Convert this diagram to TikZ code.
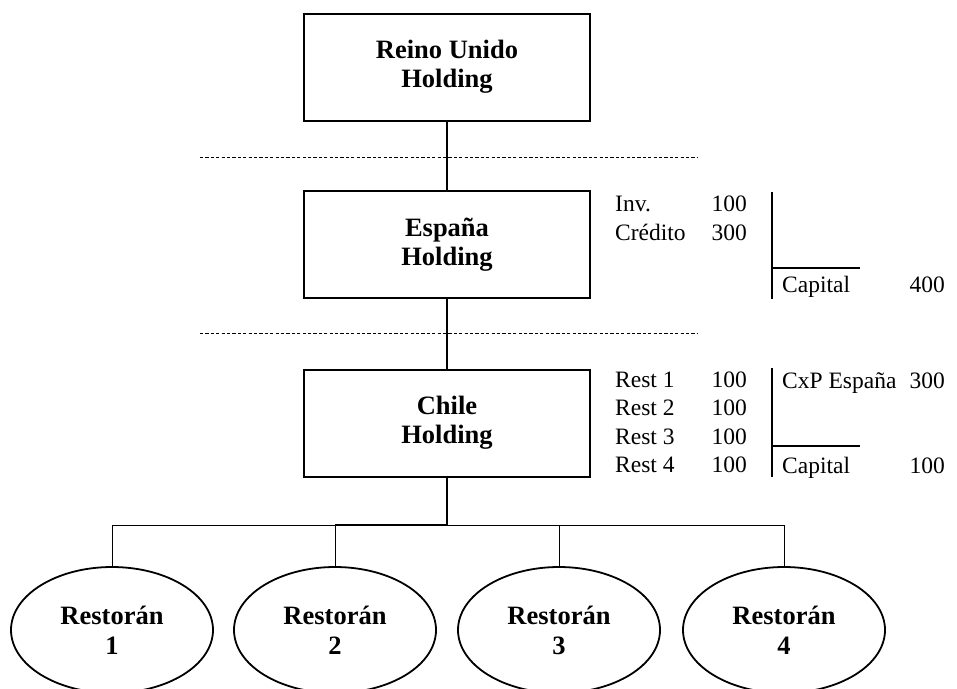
\documentclass[tikz,border=0pt]{standalone}
\usepackage{fontspec}
\setmainfont{Liberation Serif}
\usetikzlibrary{shapes.geometric}
\begin{document}
\begin{tikzpicture}[x=1pt,y=-1pt,
  holdbox/.style={draw, line width=2pt, minimum width=286pt, minimum height=107pt, inner sep=0pt,
    align=center, font=\fontsize{26.5}{29}\selectfont\bfseries},
  restnode/.style={draw, ellipse, line width=1.8pt, minimum width=202pt, minimum height=126pt, inner sep=0pt,
    align=center, font=\fontsize{26.5}{30}\selectfont\bfseries},
  conn/.style={line width=2pt},
  thinconn/.style={line width=1pt},
  divider/.style={line width=0.9pt, dash pattern=on 3.2pt off 2.2pt},
  tline/.style={line width=1.2pt},
  lbl/.style={anchor=base west, inner sep=0pt, font=\fontsize{23.5}{28}\selectfont},
  num/.style={anchor=base east, inner sep=0pt, font=\fontsize{23.5}{28}\selectfont}
]
\useasboundingbox (0,0) rectangle (957,688);

% holding boxes
\node[holdbox] (uk) at (447,67) {Reino Unido\\Holding};
\node[holdbox] (es) at (447,244.5) {España\\Holding};
\node[holdbox] (cl) at (447,423) {Chile\\Holding};

% dividers
\coordinate (d1a) at (200,157); \coordinate (d1b) at (697,157);
\coordinate (d2a) at (200,333); \coordinate (d2b) at (697,333);
\draw[divider] (d1a) -- (d1b);
\draw[divider] (d2a) -- (d2b);

% vertical connectors
\draw[conn] (uk.south) -- (es.north);
\draw[conn] (es.south) -- (cl.north);

% restaurants
\node[restnode] (r1) at (112,630) {Restorán\\1};
\node[restnode] (r2) at (335,630) {Restorán\\2};
\node[restnode] (r3) at (559,630) {Restorán\\3};
\node[restnode] (r4) at (784,630) {Restorán\\4};

% bus
\coordinate (bus) at (447,525);
\draw[conn] (cl.south) -- (bus);
\draw[thinconn] (r1.north) |- (bus);
\draw[thinconn] (r2.north) -- (r2.north |- bus);
\draw[thinconn] (r3.north) -- (r3.north |- bus);
\draw[thinconn] (r4.north) |- (bus);
\draw[conn] (bus) -- (r2.north |- bus);

% España balance
\node[lbl] (inv) at (615,211.5) {Inv.};
\node[num] (invn) at (747,211.5) {100};
\node[lbl] (cred) at (615,240) {Crédito};
\node[num] (credn) at (747,240) {300};
\draw[tline] (772,192) -- (772,299);
\draw[tline] (772,268) -- (860,268);
\node[lbl] (capes) at (782,292) {Capital};
\node[num] (capesn) at (945,292) {400};

% Chile balance
\node[lbl] (rest1) at (615,387) {Rest 1};
\node[num] (rest1n) at (747,387) {100};
\node[lbl] (rest2) at (615,415.5) {Rest 2};
\node[num] (rest2n) at (747,415.5) {100};
\node[lbl] (rest3) at (615,444) {Rest 3};
\node[num] (rest3n) at (747,444) {100};
\node[lbl] (rest4) at (615,472.5) {Rest 4};
\node[num] (rest4n) at (747,472.5) {100};
\draw[tline] (772,368) -- (772,477);
\draw[tline] (772,446) -- (860,446);
\node[lbl] (cxp) at (782,388) {CxP España};
\node[num] (cxpn) at (945,388) {300};
\node[lbl] (capcl) at (782,473) {Capital};
\node[num] (capcln) at (945,473) {100};
\end{tikzpicture}
\end{document}
